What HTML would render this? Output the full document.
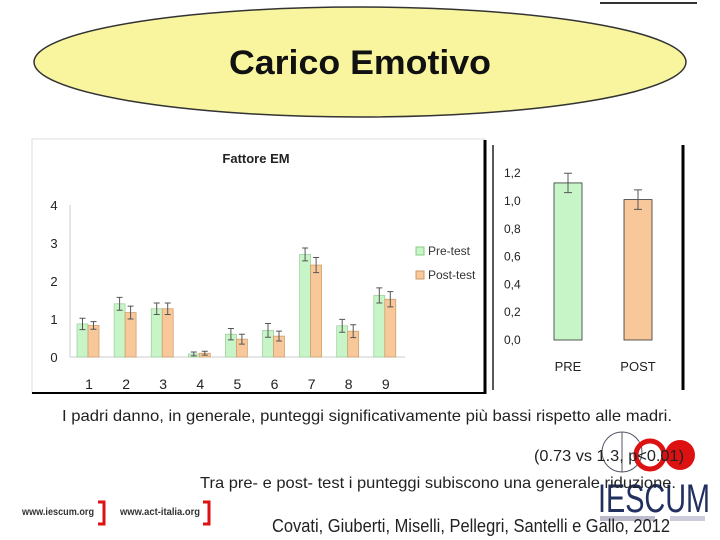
<!DOCTYPE html>
<html><head><meta charset="utf-8"><style>
body{margin:0;background:#fff;}
svg{display:block;font-family:"Liberation Sans",sans-serif;}
</style></head><body>
<svg width="720" height="540" viewBox="0 0 720 540">
<line x1="600" y1="3" x2="697" y2="3" stroke="#333" stroke-width="2"/>
<ellipse cx="360" cy="62" rx="326" ry="55" fill="#f8f59e" stroke="#333" stroke-width="1.5"/>
<text x="360" y="74" text-anchor="middle" font-size="34" font-weight="bold" fill="#111" textLength="262" lengthAdjust="spacingAndGlyphs">Carico Emotivo</text>

<g>
<rect x="32" y="139" width="453" height="254" fill="#fff" stroke="#ddd"/>
<line x1="485" y1="140" x2="485" y2="394" stroke="#000" stroke-width="3"/>
<line x1="32" y1="393" x2="486" y2="393" stroke="#000" stroke-width="2"/>
<text x="256" y="163" text-anchor="middle" font-size="13" font-weight="bold" fill="#222">Fattore EM</text>
<g id="lc"></g>
<rect x="416" y="247" width="8" height="8" fill="#c8f5c8" stroke="#8c8"/>
<text x="428" y="255" font-size="12" fill="#333">Pre-test</text>
<rect x="416" y="271" width="8" height="8" fill="#f8c89a" stroke="#c96"/>
<text x="428" y="279" font-size="12" fill="#333">Post-test</text>
</g>

<g>
<line x1="493" y1="145" x2="493" y2="390" stroke="#222" stroke-width="1.5"/>
<line x1="683" y1="145" x2="683" y2="390" stroke="#000" stroke-width="3"/>
<g id="rc"></g>
</g>

<text x="367" y="421" text-anchor="middle" font-size="16" fill="#222" textLength="610" lengthAdjust="spacingAndGlyphs">I padri danno, in generale, punteggi significativamente più bassi rispetto alle madri.</text>

<g>
<circle cx="622" cy="452" r="20" fill="none" stroke="#556" stroke-width="1"/>
<line x1="622" y1="432" x2="622" y2="472" stroke="#556"/>
<circle cx="650" cy="455" r="14" fill="none" stroke="#d11" stroke-width="5"/>
<circle cx="680" cy="455" r="15" fill="#d11"/>
<text x="598" y="512" font-size="40" fill="#223060" textLength="112" lengthAdjust="spacingAndGlyphs">IESCUM</text>
<rect x="600" y="516" width="55" height="5" fill="#bbc"/>
<rect x="670" y="516" width="35" height="5" fill="#ccd"/>
</g>

<text x="534" y="461" font-size="16" fill="#222" textLength="150" lengthAdjust="spacingAndGlyphs">(0.73 vs 1.3, p&lt;0.01)</text>
<text x="200" y="488" font-size="16" fill="#222" textLength="476" lengthAdjust="spacingAndGlyphs">Tra pre- e post- test i punteggi subiscono una generale riduzione.</text>

<text x="22" y="515" font-size="10" font-weight="bold" fill="#333" textLength="72" lengthAdjust="spacingAndGlyphs">www.iescum.org</text>
<path d="M98 502h6v22h-6" fill="none" stroke="#d11" stroke-width="3"/>
<text x="120" y="515" font-size="10" font-weight="bold" fill="#333" textLength="80" lengthAdjust="spacingAndGlyphs">www.act-italia.org</text>
<path d="M203 502h6v22h-6" fill="none" stroke="#d11" stroke-width="3"/>

<text x="272" y="532" font-size="18" fill="#222" textLength="398" lengthAdjust="spacingAndGlyphs">Covati, Giuberti, Miselli, Pellegri, Santelli e Gallo, 2012</text>
</svg>
<script>
const categories=["1","2","3","4","5","6","7","8","9"];
const preValues=[0.87,1.4,1.27,0.08,0.6,0.7,2.7,0.82,1.62];
const postValues=[0.83,1.17,1.27,0.1,0.47,0.55,2.42,0.68,1.52];
const preErr=[0.15,0.17,0.15,0.05,0.15,0.18,0.17,0.17,0.2];
const postErr=[0.1,0.17,0.15,0.05,0.13,0.13,0.2,0.17,0.2];
const yTicks=[0,1,2,3,4];
const sumCats=["PRE","POST"];
const sumValues=[1.13,1.01];
const sumErr=[0.07,0.07];
const sumTicks=["0,0","0,2","0,4","0,6","0,8","1,0","1,2"];

const NS="http://www.w3.org/2000/svg";
function mk(p,t,a){const e=document.createElementNS(NS,t);for(const k in a)e.setAttribute(k,a[k]);p.appendChild(e);return e;}
const lc=document.getElementById('lc');
const y=v=>357-v*38;
const xc=i=>89+i*37.1;
const ax=mk(lc,'line',{x1:70,y1:205,x2:70,y2:357,stroke:'#ccc'});


const bx=mk(lc,'line',{x1:70,y1:357,x2:405,y2:357,stroke:'#ccc'});


yTicks.forEach(t=>{
 const tx=mk(lc,'text',{x:54,y:y(t)+5,'font-size':13,'text-anchor':'middle',fill:'#222'});tx.textContent=t;
 
 
});
function eb(g,cx,v,e,yf,w){
 return mk(g,'path',{d:`M${cx} ${yf(v+e)}V${yf(v-e)}M${cx-w} ${yf(v+e)}h${2*w}M${cx-w} ${yf(v-e)}h${2*w}`,stroke:'#555','stroke-width':1,fill:'none'});
}
categories.forEach((c,i)=>{
 const cx=xc(i);
 const b1=mk(lc,'rect',{x:cx-12,y:y(preValues[i]),width:11,height:357-y(preValues[i]),fill:'#c8f5c8',stroke:'#9c9','stroke-width':0.7});
 
 
 const b2=mk(lc,'rect',{x:cx-1,y:y(postValues[i]),width:11,height:357-y(postValues[i]),fill:'#f8c89a',stroke:'#c96','stroke-width':0.7});
 
 
 const e1=eb(lc,cx-6.5,preValues[i],preErr[i],y,3);
 
 
 const e2=eb(lc,cx+4.5,postValues[i],postErr[i],y,3);
 
 
 const t=mk(lc,'text',{x:cx,y:389,'font-size':14,'text-anchor':'middle',fill:'#222'});t.textContent=c;
 
 
});
const rc=document.getElementById('rc');
const y2=v=>340-v*139;
sumTicks.forEach((t,i)=>{
 const tx=mk(rc,'text',{x:504,y:y2(i*0.2)+4,'font-size':12,fill:'#222'});tx.textContent=t;
 
 
});
const fills=['#c8f5c8','#f8c89a'];
const cxs=[568,638];
sumCats.forEach((c,i)=>{
 const b=mk(rc,'rect',{x:cxs[i]-14,y:y2(sumValues[i]),width:28,height:340-y2(sumValues[i]),fill:fills[i],stroke:'#333','stroke-width':0.8});
 
 
 const e=eb(rc,cxs[i],sumValues[i],sumErr[i],y2,4);
 
 
 const t=mk(rc,'text',{x:cxs[i],y:371,'font-size':13,'text-anchor':'middle',fill:'#222'});t.textContent=c;
 
 
});
</script>
</body></html>
